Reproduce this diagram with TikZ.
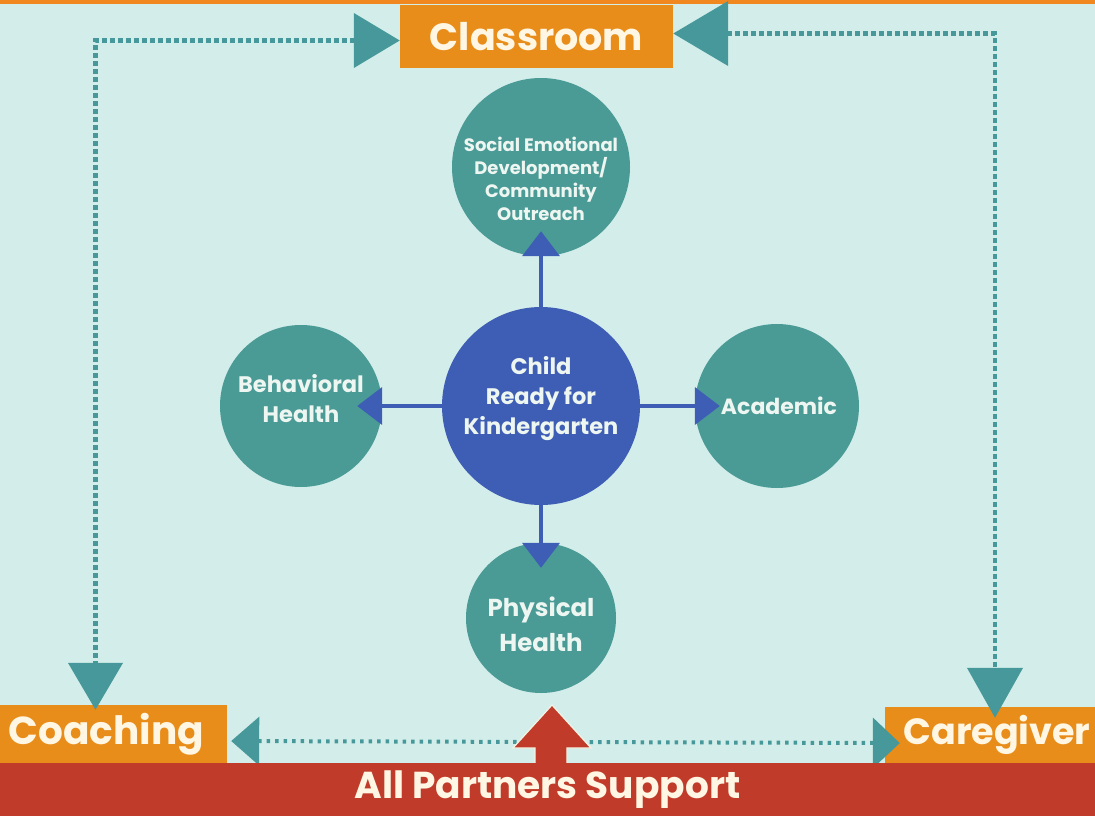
\documentclass[tikz,border=0pt]{standalone}
\usepackage{fontspec}
\setmainfont{Poppins}
\usetikzlibrary{arrows.meta,calc}
\definecolor{bgc}{HTML}{D3EEEA}
\definecolor{topor}{HTML}{F0871F}
\definecolor{boxor}{HTML}{E88D1A}
\definecolor{tealc}{HTML}{4A9A95}
\definecolor{tealln}{HTML}{46989A}
\definecolor{bluec}{HTML}{3E5DB4}
\definecolor{redc}{HTML}{C13B2A}
\definecolor{cream}{HTML}{FFF6E3}
\definecolor{ctext}{HTML}{EEF6F2}
\begin{document}
\begin{tikzpicture}[x=1pt,y=-1pt,
  obox/.style={fill=boxor,text=cream,inner sep=0pt,font=\fontsize{38}{38}\selectfont\bfseries},
  tcirc/.style={circle,fill=tealc,inner sep=0pt},
  ctxt/.style={text=ctext,inner sep=0pt,align=center},
  bluearrow/.style={draw=bluec,line width=4pt,-{Triangle[length=25pt,width=37pt]},shorten >=-25pt},
  tealdot/.style={draw=tealln,line width=4.5pt,dash pattern=on 5pt off 3pt},
  tealdot2/.style={draw=tealln,line width=4pt,dash pattern=on 3.5pt off 5pt}]
\useasboundingbox (0,0) rectangle (1095,816);
\fill[bgc] (0,0) rectangle (1095,816);
\fill[topor] (0,0) rectangle (1095,4);
% boxes
\node[obox,minimum width=273pt,minimum height=63pt] (classroom) at (536.5,36.5) {Classroom};
\node[obox,minimum width=227pt,minimum height=58pt,font=\fontsize{39}{39}\selectfont\bfseries] (coaching) at (113.5,734) {Coaching\hspace*{14pt}};
\node[obox,minimum width=210pt,minimum height=56pt,font=\fontsize{36.5}{36.5}\selectfont\bfseries] (caregiver) at (990,735) {\hspace*{14pt}Caregiver};
% circles
\node[tcirc,minimum size=178pt] (social) at (541,167) {};
\node[ctxt,font=\fontsize{18}{23}\selectfont\bfseries] (socialtxt) at (541,179) {Social Emotional\\Development/\\Community\\Outreach};
\node[circle,fill=bluec,inner sep=0pt,minimum size=198pt] (child) at (541,406) {};
\node[ctxt,font=\fontsize{22.5}{30}\selectfont\bfseries] (childtxt) at (541,399) {Child\\Ready for\\Kindergarten};
\node[tcirc,minimum size=162pt] (behav) at (301,406) {};
\node[ctxt,font=\fontsize{22.5}{30}\selectfont\bfseries] (behavtxt) at (301,399) {Behavioral\\Health};
\node[tcirc,minimum size=164pt] (acad) at (777,406) {};
\node[ctxt,font=\fontsize{22}{30}\selectfont\bfseries] (acadtxt) at (779,406) {Academic};
\node[tcirc,minimum size=150pt] (phys) at (541,618) {};
\node[ctxt,font=\fontsize{24.5}{35}\selectfont\bfseries] (phystxt) at (541,624) {Physical\\Health};
% blue connectors
\draw[bluearrow] (child) -- (social);
\draw[bluearrow] (child) -- (behav);
\draw[bluearrow] (child) -- (acad);
\draw[bluearrow] (child) -- (phys);
% teal dotted connectors
\draw[tealdot,{Triangle[length=46pt,width=54pt]}-{Triangle[length=47pt,width=54pt]},shorten >=-5pt]
  ([yshift=-4pt]classroom.west) -| ([xshift=-18pt]coaching.north);
\draw[tealdot,{Triangle[length=55pt,width=64pt]}-{Triangle[length=50pt,width=55pt]},shorten >=-11pt]
  ([yshift=3pt]classroom.east) -| ([xshift=5pt]caregiver.north);
\draw[tealdot2,{Triangle[length=28pt,width=48pt]}-{Triangle[length=27pt,width=50pt]},shorten <=4pt,shorten >=-15pt]
  ([yshift=-7pt]coaching.east) -- ([yshift=-8pt]caregiver.west);
% red support arrow
\filldraw[fill=redc,draw=cream!70!bgc,line width=1.2pt]
  (552,705) -- (591,748) -- (567,748) -- (567,770) -- (535,770) -- (535,748) -- (513,748) -- cycle;
\node[fill=redc,text=cream,inner sep=0pt,minimum width=1095pt,minimum height=53pt,
  font=\fontsize{37.5}{37.5}\selectfont\bfseries] (partners) at (547.5,789.5) {\raisebox{-4pt}{All Partners Support}};
\end{tikzpicture}
\end{document}
